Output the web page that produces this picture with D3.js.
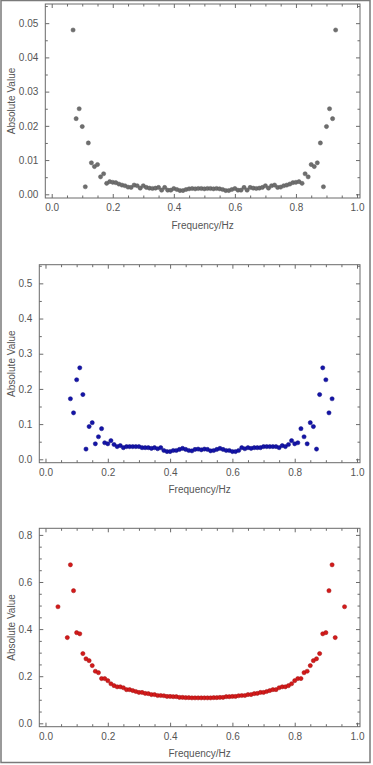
<!DOCTYPE html>
<html><head><meta charset="utf-8">
<script src="https://cdn.jsdelivr.net/npm/d3@7"></script>
<style>
html,body{margin:0;padding:0;background:#fff;}
svg{display:block;}
text{font-family:"Liberation Sans",Arial,sans-serif;}
</style></head>
<body>
<svg id="c" width="373" height="765"></svg>
<script>
// ---- data ----
const freq1 = [0.07,0.08,0.09,0.10,0.11,0.12,0.13,0.14,0.15,0.16,0.17,0.18,0.19,0.20,0.21,0.22,0.23,0.24,0.25,0.26,0.27,0.28,0.29,0.30,0.31,0.32,0.33,0.34,0.35,0.36,0.37,0.38,0.39,0.40,0.41,0.42,0.43,0.44,0.45,0.46,0.47,0.48,0.49,0.50,0.51,0.52,0.53,0.54,0.55,0.56,0.57,0.58,0.59,0.60,0.61,0.62,0.63,0.64,0.65,0.66,0.67,0.68,0.69,0.70,0.71,0.72,0.73,0.74,0.75,0.76,0.77,0.78,0.79,0.80,0.81,0.82,0.83,0.84,0.85,0.86,0.87,0.88,0.89,0.90,0.91,0.92,0.93];
const value1 = [0.0480,0.0221,0.0250,0.0198,0.0022,0.0150,0.0092,0.0081,0.0087,0.0051,0.0060,0.0032,0.0037,0.0035,0.0034,0.0030,0.0027,0.0025,0.0021,0.0020,0.0027,0.0025,0.0018,0.0025,0.0020,0.0018,0.0017,0.0018,0.0020,0.0012,0.0020,0.0012,0.0012,0.0017,0.0014,0.0011,0.0011,0.0014,0.0016,0.0017,0.0016,0.0017,0.0017,0.0016,
0.0017,0.0017,0.0016,0.0017,0.0016,0.0014,0.0011,0.0011,0.0014,0.0017,0.0012,0.0012,0.0020,0.0012,0.0020,0.0018,0.0017,0.0018,0.0020,0.0025,0.0018,0.0025,0.0027,0.0020,0.0021,0.0025,0.0027,0.0030,0.0034,0.0035,0.0037,0.0032,0.0060,0.0051,0.0087,0.0081,0.0092,0.0150,0.0022,0.0198,0.0250,0.0221,0.0480];

const freq2 = [0.08,0.09,0.10,0.11,0.12,0.13,0.14,0.15,0.16,0.17,0.18,0.19,0.20,0.21,0.22,0.23,0.24,0.25,0.26,0.27,0.28,0.29,0.30,0.31,0.32,0.33,0.34,0.35,0.36,0.37,0.38,0.39,0.40,0.41,0.42,0.43,0.44,0.45,0.46,0.47,0.48,0.49,0.50,0.51,0.52,0.53,0.54,0.55,0.56,0.57,0.58,0.59,0.60,0.61,0.62,0.63,0.64,0.65,0.66,0.67,0.68,0.69,0.70,0.71,0.72,0.73,0.74,0.75,0.76,0.77,0.78,0.79,0.80,0.81,0.82,0.83,0.84,0.85,0.86,0.87,0.88,0.89,0.90,0.91,0.92];
const value2 = [0.172,0.132,0.226,0.260,0.184,0.029,0.093,0.104,0.044,0.064,0.087,0.047,0.044,0.053,0.042,0.036,0.039,0.033,0.036,0.036,0.036,0.036,0.036,0.033,0.033,0.033,0.031,0.033,0.030,0.033,0.025,0.022,0.022,0.025,0.025,0.028,0.031,0.028,0.025,0.024,0.028,0.029,0.027,
0.029,0.028,0.024,0.025,0.028,0.031,0.028,0.025,0.025,0.022,0.022,0.025,0.033,0.030,0.033,0.031,0.033,0.033,0.033,0.036,0.036,0.036,0.036,0.036,0.033,0.039,0.036,0.042,0.053,0.044,0.047,0.087,0.064,0.044,0.104,0.093,0.029,0.184,0.260,0.226,0.132,0.172];

const freq3 = [0.04,0.07,0.08,0.09,0.10,0.11,0.12,0.13,0.14,0.15,0.16,0.17,0.18,0.19,0.20,0.21,0.22,0.23,0.24,0.25,0.26,0.27,0.28,0.29,0.30,0.31,0.32,0.33,0.34,0.35,0.36,0.37,0.38,0.39,0.40,0.41,0.42,0.43,0.44,0.45,0.46,0.47,0.48,0.49,0.50,0.51,0.52,0.53,0.54,0.55,0.56,0.57,0.58,0.59,0.60,0.61,0.62,0.63,0.64,0.65,0.66,0.67,0.68,0.69,0.70,0.71,0.72,0.73,0.74,0.75,0.76,0.77,0.78,0.79,0.80,0.81,0.82,0.83,0.84,0.85,0.86,0.87,0.88,0.89,0.90,0.91,0.92,0.93,0.96];
const value3 = [0.495,0.364,0.673,0.563,0.385,0.380,0.296,0.274,0.266,0.245,0.221,0.215,0.190,0.190,0.181,0.168,0.160,0.155,0.155,0.151,0.143,0.143,0.139,0.135,0.131,0.131,0.127,0.126,0.122,0.122,0.118,0.118,0.117,0.114,0.114,0.113,0.113,0.110,0.110,0.109,0.109,0.108,0.108,0.108,0.108,
0.108,0.108,0.108,0.109,0.109,0.110,0.110,0.113,0.113,0.114,0.114,0.117,0.118,0.118,0.122,0.122,0.126,0.127,0.131,0.131,0.135,0.139,0.143,0.143,0.151,0.155,0.155,0.160,0.168,0.181,0.190,0.190,0.215,0.221,0.245,0.266,0.274,0.296,0.380,0.385,0.563,0.673,0.364,0.495];

const xTicks = [0,0.2,0.4,0.6,0.8,1.0];
const yTicks1 = [0,0.01,0.02,0.03,0.04,0.05];
const yTicks2 = [0,0.1,0.2,0.3,0.4,0.5];
const yTicks3 = [0,0.2,0.4,0.6,0.8];
const xLabel = "Frequency/Hz";
const yLabel = "Absolute Value";

// ---- drawing ----
const svg = d3.select("#c");
svg.append("rect").attr("x",1).attr("y",0.5).attr("width",369).attr("height",762)
  .attr("fill","#fff").attr("stroke","#7a7a7a").attr("stroke-width",1.5);

const panels = [
  {freq:freq1, vals:value1, yTicks:yTicks1, yFmt:d3.format(".2f"), yMinor:0.005,
   fx0:45.3, fx1:360, fy0:4, fy1:198, xd:[-0.021,1.0098], yd:[-0.00108,0.0556], color:"#6e6e6e", stroke:"#5a5a5a"},
  {freq:freq2, vals:value2, yTicks:yTicks2, yFmt:d3.format(".1f"), yMinor:0.05,
   fx0:39.3, fx1:360, fy0:264.7, fy1:462.7, xd:[-0.0199,1.0096], yd:[-0.0097,0.553], color:"#1414a8", stroke:"#0a0a80"},
  {freq:freq3, vals:value3, yTicks:yTicks3, yFmt:d3.format(".1f"), yMinor:0.05,
   fx0:39.3, fx1:360, fy0:528.3, fy1:726.7, xd:[-0.0199,1.0096], yd:[-0.0144,0.828], color:"#d41a1a", stroke:"#a01010"}
];

const textCol = "#555";
const frameCol = "#6a6a6a";

panels.forEach(p => {
  const x = d3.scaleLinear().domain(p.xd).range([p.fx0,p.fx1]);
  const y = d3.scaleLinear().domain(p.yd).range([p.fy1,p.fy0]);
  const g = svg.append("g");
  const H = p.fy1-p.fy0, W = p.fx1-p.fx0;
  const xMinor = d3.range(0,1.0001,0.05).filter(v => Math.abs(v*5-Math.round(v*5))>1e-6);
  const yMax = p.yd[1];
  const yMinor = d3.range(0,yMax,p.yMinor).filter(v => !p.yTicks.some(t=>Math.abs(t-v)<1e-9));

  const axB = d3.axisBottom(x).tickValues(xTicks).tickFormat(d3.format(".1f")).tickSizeInner(-4).tickSizeOuter(0).tickPadding(6);
  const axBm = d3.axisBottom(x).tickValues(xMinor).tickFormat("").tickSizeInner(-2.5).tickSizeOuter(0);
  const axT = d3.axisTop(x).tickValues(xTicks).tickFormat("").tickSizeInner(-4).tickSizeOuter(0);
  const axTm = d3.axisTop(x).tickValues(xMinor).tickFormat("").tickSizeInner(-2.5).tickSizeOuter(0);
  const axL = d3.axisLeft(y).tickValues(p.yTicks).tickFormat(p.yFmt).tickSizeInner(-4).tickSizeOuter(0).tickPadding(7);
  const axLm = d3.axisLeft(y).tickValues(yMinor).tickFormat("").tickSizeInner(-2.5).tickSizeOuter(0);
  const axR = d3.axisRight(y).tickValues(p.yTicks).tickFormat("").tickSizeInner(-4).tickSizeOuter(0);
  const axRm = d3.axisRight(y).tickValues(yMinor).tickFormat("").tickSizeInner(-2.5).tickSizeOuter(0);

  const style = sel => {
    sel.select(".domain").remove();
    sel.selectAll("line").attr("stroke",frameCol).attr("stroke-width",1);
    sel.selectAll("text").attr("fill",textCol).attr("font-size",10).attr("font-family","Liberation Sans, Arial, sans-serif");
  };
  g.append("g").attr("transform",`translate(0,${p.fy1})`).call(axB).call(style);
  g.append("g").attr("transform",`translate(0,${p.fy1})`).call(axBm).call(style);
  g.append("g").attr("transform",`translate(0,${p.fy0})`).call(axT).call(style);
  g.append("g").attr("transform",`translate(0,${p.fy0})`).call(axTm).call(style);
  g.append("g").attr("transform",`translate(${p.fx0},0)`).call(axL).call(style);
  g.append("g").attr("transform",`translate(${p.fx0},0)`).call(axLm).call(style);
  g.append("g").attr("transform",`translate(${p.fx1},0)`).call(axR).call(style);
  g.append("g").attr("transform",`translate(${p.fx1},0)`).call(axRm).call(style);

  g.append("rect").attr("x",p.fx0).attr("y",p.fy0).attr("width",W).attr("height",H)
    .attr("fill","none").attr("stroke",frameCol).attr("stroke-width",1);

  g.append("g").selectAll("circle").data(p.freq.map((f,i)=>[f,p.vals[i]])).join("circle")
    .attr("cx",d=>x(d[0])).attr("cy",d=>y(d[1])).attr("r",2.1)
    .attr("fill",p.color).attr("stroke",p.stroke).attr("stroke-width",0.5);

  g.append("text").attr("x",(p.fx0+p.fx1)/2).attr("y",p.fy1+27).attr("text-anchor","middle")
    .attr("dominant-baseline","central").attr("font-size",10).attr("fill",textCol).text(xLabel);
  g.append("text").attr("transform",`translate(11,${(p.fy0+p.fy1)/2}) rotate(-90)`).attr("text-anchor","middle")
    .attr("dominant-baseline","central").attr("font-size",10).attr("fill",textCol).text(yLabel);
});
</script>
</body></html>
